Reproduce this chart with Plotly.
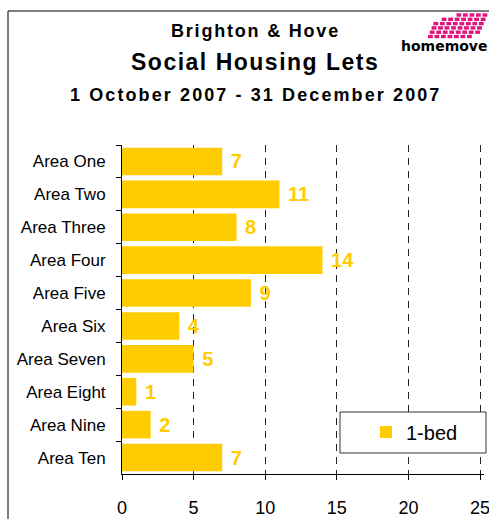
import plotly.graph_objects as go

areas = ["Area One", "Area Two", "Area Three", "Area Four", "Area Five",
         "Area Six", "Area Seven", "Area Eight", "Area Nine", "Area Ten"]
one_bed = [7, 11, 8, 14, 9, 4, 5, 1, 2, 7]
x_ticks = [0, 5, 10, 15, 20, 25]
series_name = "1-bed"
title_lines = ["Brighton & Hove", "Social Housing Lets", "1 October 2007 - 31 December 2007"]

W, H = 489, 519
L, R, T, B = 122, 5, 145, 45
PW, PH = W - L - R, H - T - B
X_MAX = 25 * PW / 358.0  # 25 lands at x=480px

def px(x):
    return (x - L) / PW

def py(y):
    return (H - B - y) / PH

GOLD = "#FFCC00"
FONT = "Liberation Sans, Arial, Helvetica, sans-serif"

fig = go.Figure()
fig.add_trace(go.Bar(
    y=areas, x=one_bed, orientation="h", name=series_name,
    marker=dict(color=GOLD, line=dict(width=0)),
    texttemplate="\u00a0%{x}", textposition="outside", cliponaxis=False,
    textfont=dict(family=FONT, size=20, color=GOLD, weight="bold"),
))

shapes = []
# outer frame
shapes.append(dict(type="rect", xref="paper", yref="paper",
                   x0=px(8), y0=py(11), x1=px(520), y1=py(560),
                   line=dict(color="black", width=1), fillcolor="rgba(0,0,0,0)", layer="below"))
# legend box
shapes.append(dict(type="rect", xref="paper", yref="paper",
                   x0=px(340), y0=py(453), x1=px(486), y1=py(412),
                   line=dict(color="#333333", width=1), fillcolor="white", layer="above"))
# logo dots (decoration)
for r in range(6):
    for c in range(8):
        cx = 437 + c * 6.5 - r * 1.8
        cy = 15 + r * 4.3
        if (r == 0 and c < 3) or (r == 1 and c < 1) or (r == 5 and c > 6):
            continue
        shapes.append(dict(type="rect", xref="paper", yref="paper",
                           x0=px(cx), y0=py(cy + 1.7), x1=px(cx + 4.8), y1=py(cy - 1.7),
                           line=dict(width=0), fillcolor="#E0147C", layer="above"))

annotations = []
title_specs = [(title_lines[0], 18, 31, 1.8), (title_lines[1], 23, 62, 1.5), (title_lines[2], 18, 95, 2.1)]
for txt, size, yc, ls in title_specs:
    annotations.append(dict(text=f"<span style='letter-spacing:{ls}px'>{txt}</span>",
                            xref="paper", yref="paper", x=px(255), y=py(yc),
                            xanchor="center", yanchor="middle", showarrow=False,
                            font=dict(family=FONT, size=size, color="black", weight="bold")))
annotations.append(dict(text="homemove", xref="paper", yref="paper", x=px(399), y=py(46),
                        xanchor="left", yanchor="middle", showarrow=False,
                        font=dict(family="DejaVu Sans, Arial", size=14, color="black", weight="bold")))

fig.update_layout(
    width=W, height=H,
    margin=dict(l=L, r=R, t=T, b=B, pad=0, autoexpand=False),
    paper_bgcolor="white", plot_bgcolor="white",
    bargap=0.16,
    showlegend=True,
    legend=dict(x=px(366), y=py(432), xanchor="left", yanchor="middle",
                bgcolor="rgba(0,0,0,0)", borderwidth=0,
                font=dict(family=FONT, size=20, color="black")),
    shapes=shapes, annotations=annotations,
    font=dict(family=FONT, color="black"),
)
fig.update_xaxes(range=[0, X_MAX], tickvals=x_ticks, ticktext=[str(v) for v in x_ticks],
                 showgrid=True, gridcolor="#222222", griddash="7px,6px", gridwidth=1,
                 showline=True, linecolor="black", linewidth=1,
                 ticks="outside", ticklen=5, tickcolor="black",
                 tickfont=dict(family=FONT, size=18, color="black"),
                 ticklabelstandoff=12, ticklabeloverflow="allow",
                 zeroline=False, fixedrange=True, automargin=False)
fig.update_yaxes(categoryorder="array", categoryarray=areas, autorange="reversed",
                 showgrid=False, showline=True, linecolor="black", linewidth=1,
                 ticks="outside", ticklen=5, tickcolor="black", tickson="boundaries",
                 tickfont=dict(family=FONT, size=17, color="black"),
                 ticklabelstandoff=12, fixedrange=True, automargin=False)

fig.write_html(
    "out.html",
    config={"displayModeBar": False},
    post_script="document.body.style.margin='0';document.documentElement.style.overflow='hidden';document.body.style.overflow='hidden';",
)
